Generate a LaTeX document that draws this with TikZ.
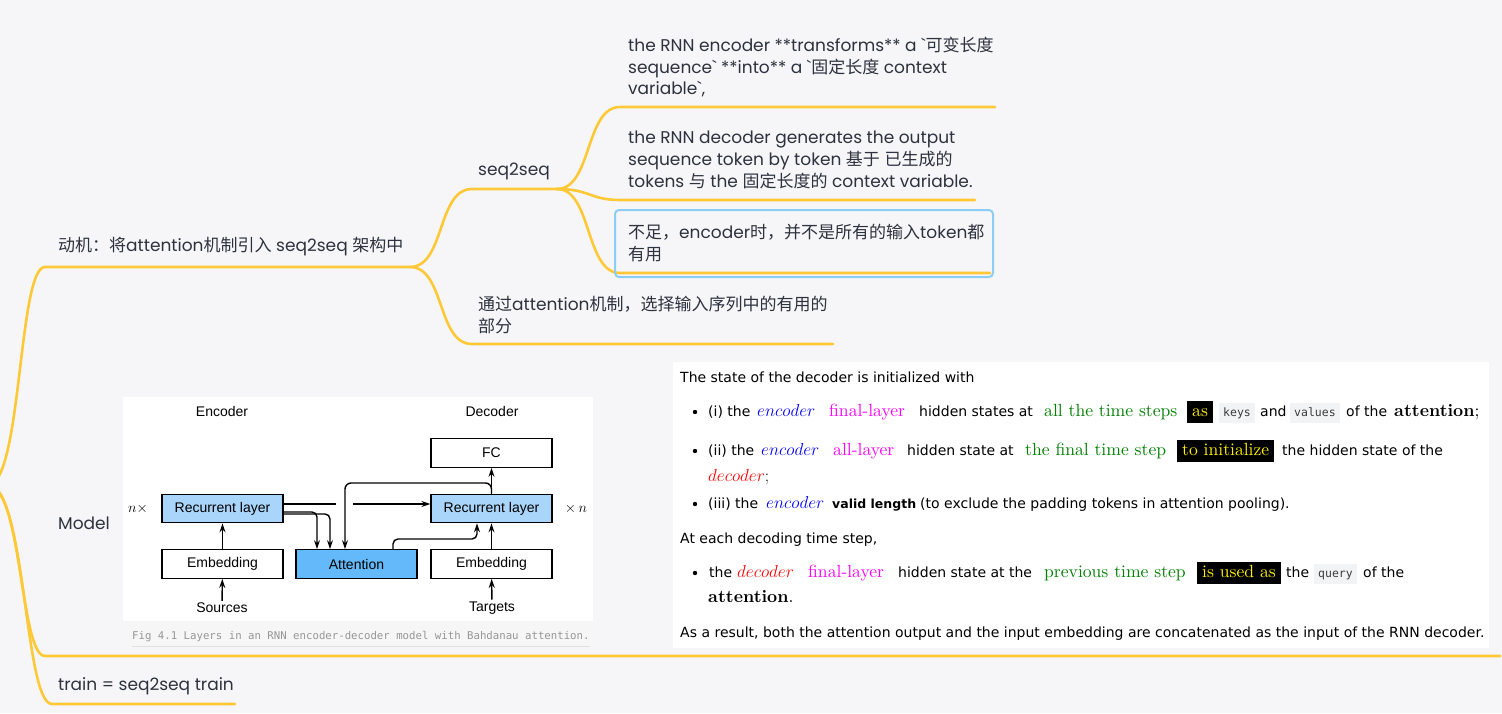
\documentclass[tikz,border=0pt]{standalone}
\usepackage[no-math]{fontspec}
\usetikzlibrary{arrows.meta}
\newfontfamily\mmfont{Poppins}
\newfontfamily\zhfont[Scale=1.0]{Noto Sans CJK SC}
\newfontfamily\arl{Liberation Sans}
\newfontfamily\cmc{DejaVu Sans}
\newfontfamily\monof{DejaVu Sans Mono}
\newfontfamily\lmr[BoldFont=lmroman10-bold.otf]{lmroman10-regular.otf}
\newcommand\zh[1]{{\zhfont #1}}
\definecolor{bg}{RGB}{246,246,248}
\definecolor{mmline}{RGB}{255,200,55}
\definecolor{mmtxt}{RGB}{45,50,62}
\definecolor{boxblue}{RGB}{140,205,245}
\definecolor{reclight}{RGB}{170,213,250}
\definecolor{attblue}{RGB}{100,185,250}
\definecolor{kgreen}{RGB}{0,128,0}
\definecolor{kmag}{RGB}{255,0,255}
\definecolor{kblue}{RGB}{0,0,255}
\definecolor{kred}{RGB}{255,0,0}
\definecolor{codebg}{RGB}{242,243,244}
\definecolor{codetx}{RGB}{60,60,60}
\definecolor{capgray}{RGB}{150,150,150}
\definecolor{capband}{RGB}{246,246,246}
\definecolor{capline}{RGB}{225,225,225}
\tikzset{
 branch/.style={draw=mmline, line width=2.6pt, line cap=round},
 mm/.style={anchor=west, inner sep=0pt, align=left, text=mmtxt, font=\mmfont\fontsize{17}{21.7}\selectfont},
 figbox/.style={draw=black, line width=1.3pt, minimum width=121pt, minimum height=28.5pt, inner sep=0pt, font=\arl\fontsize{14}{16}\selectfont},
 flabel/.style={inner sep=2pt, font=\arl\fontsize{14}{16}\selectfont},
 farr/.style={line width=1.4pt, -{Stealth[length=9pt,width=6pt]}},
 fline/.style={line width=1.4pt},
 seg/.style={anchor=base west, inner sep=0pt, font=\cmc\fontsize{14}{17}\selectfont},
 ser/.style={anchor=base west, inner sep=0pt, font=\lmr\fontsize{17.6}{20}\selectfont},
 hl/.style={anchor=base west, fill=black, text=yellow, inner xsep=5pt, inner ysep=2.5pt, text height=12.5pt, text depth=4pt, font=\lmr\fontsize{17.6}{20}\selectfont},
 codebox/.style={anchor=base west, fill=codebg, text=codetx, inner xsep=4pt, inner ysep=4pt, text height=9pt, text depth=3pt, font=\monof\fontsize{11.5}{13}\selectfont},
 bul/.style={fill=black},
}
\begin{document}
\begin{tikzpicture}[x=1pt,y=-1pt]
\useasboundingbox (0,0) rectangle (1502,713);
\fill[bg] (0,0) rectangle (1502,713);
% ---------- figure ----------
\fill[white] (123,397) rectangle (593,621);
\fill[capband] (123,621) rectangle (593,647);
\draw[capline, line width=1pt] (132,646) -- (590,646);
\node[anchor=base west, inner sep=0pt, text=capgray, font=\monof\fontsize{10.7}{12}\selectfont] (cap) at (132,639) {Fig 4.1 Layers in an RNN encoder-decoder model with Bahdanau attention.};
\node[figbox] (fc) at (491.5,453) {FC};
\node[figbox, fill=reclight] (recenc) at (222.5,508.5) {Recurrent layer};
\node[figbox, fill=reclight] (recdec) at (491.5,508.5) {Recurrent layer};
\node[figbox] (embenc) at (222.5,564) {Embedding};
\node[figbox, fill=attblue] (attn) at (356.5,564) {Attention};
\node[figbox] (embdec) at (491.5,564) {Embedding};
\node[flabel] (enclab) at (222,411) {Encoder};
\node[flabel] (declab) at (492,411) {Decoder};
\node[flabel] (src) at (222,608) {Sources};
\node[flabel] (tgt) at (492,608) {Targets};
\node[flabel, font=\lmr\fontsize{14}{16}\selectfont] (nl) at (138,509) {$n\times$};
\node[flabel, font=\lmr\fontsize{14}{16}\selectfont] (nr) at (576,509) {$\times\,n$};
\draw[farr] (src) -- (embenc);
\draw[farr] (embenc) -- (recenc);
\draw[farr] (tgt) -- (embdec);
\draw[farr] (embdec) -- (recdec);
\draw[farr] (recdec) -- (fc);
\coordinate (gapL) at (336,504);
\coordinate (gapR) at (353,504);
\draw[fline] (recenc.east |- gapL) -- (gapL);
\draw[farr] (gapR) -- (recdec.west |- gapR);
\coordinate (k1) at (317,512);
\coordinate (k2) at (330,514);
\draw[farr, rounded corners=5pt] (recenc.east |- k1) -| (attn.north -| k1);
\draw[farr, rounded corners=5pt] (recenc.east |- k2) -| (attn.north -| k2);
\coordinate (q1) at (345,483);
\draw[farr, rounded corners=6pt] (recdec.north) |- (q1) -- (attn.north -| q1);
\coordinate (a1) at (393,539);
\coordinate (a2) at (477,539);
\draw[farr, rounded corners=5pt] (attn.north -| a1) |- (a2) -- (recdec.south -| a2);
% ---------- text panel ----------
\fill[white] (673,362) rectangle (1489,648);
\node[seg] (l1) at (680,382) {The state of the decoder is initialized with};
\fill[bul] (695,412) circle (2.2pt);
\node[seg] (l2a) at (708,416) {(i) the};
\node[ser, text=kblue] (l2b) at (757,416) {$encoder$};
\node[ser, text=kmag] (l2c) at (829,416) {final-layer};
\node[seg] (l2d) at (919,416) {hidden states at};
\node[ser, text=kgreen] (l2e) at (1044,416) {all the time steps};
\node[hl] (l2f) at (1187,416) {as};
\node[codebox] (l2g) at (1219,416) {keys};
\node[seg] (l2h) at (1260,416) {and};
\node[codebox] (l2i) at (1290,416) {values};
\node[seg] (l2j) at (1346,416) {of the};
\node[ser] (l2k) at (1394,416) {\bfseries attention\mdseries;};
\fill[bul] (695,451) circle (2.2pt);
\node[seg] (l3a) at (708,455) {(ii) the};
\node[ser, text=kblue] (l3b) at (761,455) {$encoder$};
\node[ser, text=kmag] (l3c) at (833,455) {all-layer};
\node[seg] (l3d) at (907,455) {hidden state at};
\node[ser, text=kgreen] (l3e) at (1025,455) {the final time step};
\node[hl] (l3f) at (1177,455) {to initialize};
\node[seg] (l3g) at (1282,455) {the hidden state of the};
\node[ser] (l4a) at (708,481) {\textcolor{kred}{$decoder$}$;$};
\fill[bul] (695,504) circle (2.2pt);
\node[seg] (l5a) at (708,508) {(iii) the};
\node[ser, text=kblue] (l5b) at (766,508) {$encoder$};
\node[seg, font=\cmc\bfseries\fontsize{12.5}{17}\selectfont] (l5c) at (832,508) {valid length};
\node[seg] (l5d) at (920,508) {(to exclude the padding tokens in attention pooling).};
\node[seg] (l6) at (680,543) {At each decoding time step,};
\fill[bul] (695,573) circle (2.2pt);
\node[seg] (l7a) at (709,577) {the};
\node[ser, text=kred] (l7b) at (737,577) {$decoder$};
\node[ser, text=kmag] (l7c) at (808,577) {final-layer};
\node[seg] (l7d) at (898,577) {hidden state at the};
\node[ser, text=kgreen] (l7e) at (1044,577) {previous time step};
\node[hl] (l7f) at (1197,577) {is used as};
\node[seg] (l7g) at (1286,577) {the};
\node[codebox] (l7h) at (1314,577) {query};
\node[seg] (l7i) at (1363,577) {of the};
\node[ser] (l8) at (708,602) {\bfseries attention\mdseries.};
\node[seg] (l9) at (680,637) {As a result, both the attention output and the input embedding are concatenated as the input of the RNN decoder.};
% ---------- mind map branches ----------
\coordinate (root) at (-12,485);
\coordinate (u1s) at (45,267); \coordinate (u1e) at (410,267);
\coordinate (u2s) at (45,656); \coordinate (u2e) at (1500,656);
\coordinate (u3s) at (52,704); \coordinate (u3e) at (235,704);
\coordinate (s1) at (472,189); \coordinate (s1e) at (557,189);
\coordinate (s2) at (472,344); \coordinate (s2e) at (833,344);
\coordinate (c1) at (620,107); \coordinate (c1e) at (995,107);
\coordinate (c2) at (620,200); \coordinate (c2e) at (975,200);
\coordinate (c3) at (620,273); \coordinate (c3e) at (990,273);
\draw[branch] (root) .. controls (22,485) and (18,267) .. (u1s) -- (u1e);
\draw[branch] (root) .. controls (22,485) and (20,656) .. (u2s) -- (u2e);
\draw[branch] (root) .. controls (26,485) and (24,704) .. (u3s) -- (u3e);
\draw[branch] (u1e) .. controls (445,267) and (437,189) .. (s1) -- (s1e);
\draw[branch] (u1e) .. controls (445,267) and (437,344) .. (s2) -- (s2e);
\draw[branch] (s1e) .. controls (592,189) and (585,107) .. (c1) -- (c1e);
\draw[branch] (s1e) .. controls (590,189) and (590,200) .. (c2) -- (c2e);
\draw[branch] (s1e) .. controls (592,189) and (585,273) .. (c3) -- (c3e);
\draw[boxblue, line width=2pt, rounded corners=4pt] (615,210) rectangle (993,277);
% ---------- mind map texts ----------
\node[mm] (m1) at (58,247) {\zh{动机：将}attention\zh{机制引入} seq2seq \zh{架构中}};
\node[mm] (m11) at (478,171) {seq2seq};
\node[mm] (m111) at (628,67) {the RNN encoder **transforms** a `\zh{可变长度}\\sequence` **into** a `\zh{固定长度} context\\variable`,};
\node[mm] (m112) at (628,160) {the RNN decoder generates the output\\sequence token by token \zh{基于} \zh{已生成的}\\tokens \zh{与} the \zh{固定长度的} context variable.};
\node[mm] (m113) at (628,243) {\zh{不足，}encoder\zh{时，并不是所有的输入}token\zh{都}\\\zh{有用}};
\node[mm] (m12) at (478,315) {\zh{通过}attention\zh{机制，选择输入序列中的有用的}\\\zh{部分}};
\node[mm] (m2) at (58,523) {Model};
\node[mm] (m3) at (58,686) {train = seq2seq train};
\end{tikzpicture}
\end{document}
